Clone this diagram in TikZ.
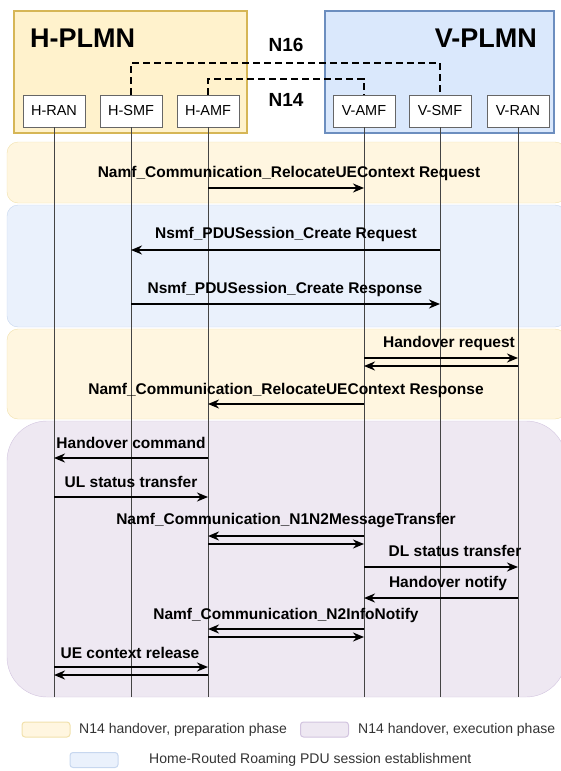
\documentclass[tikz,border=0pt]{standalone}
\usepackage{fontspec}
\setmainfont{Liberation Sans}
\usetikzlibrary{arrows.meta}
\definecolor{hfill}{HTML}{FFF2CC}
\definecolor{hdraw}{HTML}{D6B656}
\definecolor{vfill}{HTML}{DAE8FC}
\definecolor{vdraw}{HTML}{6C8EBF}
\definecolor{prepfill}{HTML}{FFF6E0}
\definecolor{prepdraw}{HTML}{F1E1AC}
\definecolor{homefill}{HTML}{EAF1FC}
\definecolor{homedraw}{HTML}{C7D7EF}
\definecolor{execfill}{HTML}{EEE8F2}
\definecolor{execdraw}{HTML}{D2C4DF}
\definecolor{lifegray}{HTML}{444444}
\definecolor{legtext}{HTML}{333333}

\begin{document}
\begin{tikzpicture}[x=1pt,y=-1pt,
	nf/.style={draw=gray!80!black,fill=white,minimum width=62pt,minimum height=32pt,inner sep=0pt,font=\fontsize{14.5}{16}\selectfont},
	lbl/.style={inner sep=0pt,font=\fontsize{15.5}{18}\selectfont\bfseries},
	msg/.style={line width=2pt,-{Stealth[length=11pt,width=9pt]}},
	life/.style={draw=lifegray,line width=1pt},
	link/.style={line width=2pt,dash pattern=on 7pt off 4pt},
	leg/.style={anchor=west,inner sep=0pt,text=legtext,font=\fontsize{14}{16}\selectfont},
	swatch/.style={rounded corners=3pt,line width=1pt,minimum width=48pt,minimum height=15pt,inner sep=0pt}]

			\useasboundingbox (0,0) rectangle (560,771);

			% networks
			\draw[hdraw,fill=hfill,line width=2.5pt] (14,11) rectangle (247,133);
			\draw[vdraw,fill=vfill,line width=2.5pt] (325,11) rectangle (554,133);
			\node[inner sep=0pt,anchor=west,font=\fontsize{27}{30}\selectfont\bfseries] (hplmn) at (30,38) {H-PLMN};
			\node[inner sep=0pt,anchor=east,font=\fontsize{27}{30}\selectfont\bfseries] (vplmn) at (537,38) {V-PLMN};

			% phases
			\draw[prepdraw,fill=prepfill,rounded corners=11pt] (7,142) rectangle (566,203);
			\draw[homedraw,fill=homefill,rounded corners=11pt] (7,205) rectangle (566,327);
			\draw[prepdraw,fill=prepfill,rounded corners=11pt] (7,329) rectangle (566,419);
			\draw[execdraw,fill=execfill,rounded corners=40pt] (7,421) rectangle (566,697);

			\node[nf] (hran) at (54,111) {H-RAN};
			\node[nf] (hsmf) at (131,111) {H-SMF};
			\node[nf] (hamf) at (208,111) {H-AMF};
			\node[nf] (vamf) at (364,111) {V-AMF};
			\node[nf] (vsmf) at (440,111) {V-SMF};
			\node[nf] (vran) at (518,111) {V-RAN};

			\foreach \n in {hran,hsmf,hamf,vamf,vsmf,vran}
				\draw[life] (\n.south) -- (\n |- 0,697);

			% N16 and N14
			\draw[link] (hsmf.north) |- (vsmf |- 0,63) -- (vsmf.north);
			\draw[link] (hamf.north) |- (vamf |- 0,79) -- (vamf.north);
			\node[inner sep=0pt,font=\fontsize{19}{22}\selectfont\bfseries] (n16) at (286,45) {N16};
			\node[inner sep=0pt,font=\fontsize{19}{22}\selectfont\bfseries] (n14) at (286,100) {N14};

			% messages
			\node[lbl] (m1) at (289,173) {Namf\_Communication\_RelocateUEContext Request};
			\draw[msg] (hamf |- 0,188) -- (vamf |- 0,188);

			\node[lbl] (m2) at (286,234) {Nsmf\_PDUSession\_Create Request};
			\draw[msg] (vsmf |- 0,250) -- (hsmf |- 0,250);
			\node[lbl] (m3) at (285,289) {Nsmf\_PDUSession\_Create Response};
			\draw[msg] (hsmf |- 0,304) -- (vsmf |- 0,304);

			\node[lbl] (m4) at (449,343) {Handover request};
			\draw[msg] (vamf |- 0,358) -- (vran |- 0,358);
			\draw[msg] (vran |- 0,366) -- (vamf |- 0,366);
			\node[lbl] (m5) at (286,390) {Namf\_Communication\_RelocateUEContext Response};
			\draw[msg] (vamf |- 0,404) -- (hamf |- 0,404);

			\node[lbl] (m6) at (131,443) {Handover command};
			\draw[msg] (hamf |- 0,458) -- (hran |- 0,458);
			\node[lbl] (m7) at (131,482) {UL status transfer};
			\draw[msg] (hran |- 0,497) -- (hamf |- 0,497);
			\node[lbl] (m8) at (286,521) {Namf\_Communication\_N1N2MessageTransfer};
			\draw[msg] (vamf |- 0,536) -- (hamf |- 0,536);
			\draw[msg] (hamf |- 0,544) -- (vamf |- 0,544);
			\node[lbl] (m9) at (455,551) {DL status transfer};
			\draw[msg] (vamf |- 0,567) -- (vran |- 0,567);
			\node[lbl] (m10) at (448,583) {Handover notify};
			\draw[msg] (vran |- 0,598) -- (vamf |- 0,598);
			\node[lbl] (m11) at (286,615) {Namf\_Communication\_N2InfoNotify};
			\draw[msg] (vamf |- 0,629) -- (hamf |- 0,629);
			\draw[msg] (hamf |- 0,637) -- (vamf |- 0,637);
			\node[lbl] (m12) at (130,653) {UE context release};
			\draw[msg] (hran |- 0,667) -- (hamf |- 0,667);
			\draw[msg] (hamf |- 0,675) -- (hran |- 0,675);

			% legend
			\node[swatch,draw=prepdraw,fill=prepfill] (sw1) at (46,729.5) {};
			\node[leg] (lg1) at (79,729.5) {N14 handover, preparation phase};
			\node[swatch,draw=execdraw,fill=execfill] (sw2) at (324.5,729.5) {};
			\node[leg] (lg2) at (358,729.5) {N14 handover, execution phase};
			\node[swatch,draw=homedraw,fill=homefill] (sw3) at (94,760) {};
			\node[leg] (lg3) at (149,760) {Home-Routed Roaming PDU session establishment};
		\end{tikzpicture}
\end{document}
